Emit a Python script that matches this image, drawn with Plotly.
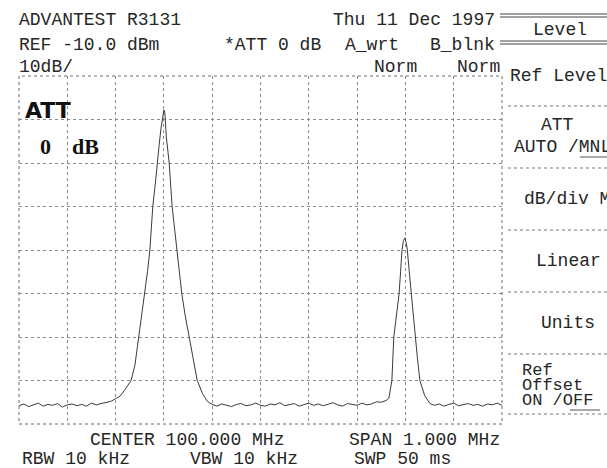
import plotly.graph_objects as go

# screen of an ADVANTEST R3131, 10 dB/div, ref -10 dBm, span 1 MHz
CENTER_MHZ = 100.0

# trace, frequency offset from center (kHz) and level (dBm)
offset_khz = [
    -500, -490, -480, -470, -460, -450, -440, -430, -420, -410,
    -400, -390, -380, -370, -360, -350, -340, -330, -320, -310,
    -300, -290, -280, -268, -260, -252, -245, -239, -234, -229,
    -226, -223, -218, -214, -210, -206, -203, -200, -198, -197,
    -195, -189, -186, -183, -178, -173, -168, -163, -156, -148,
    -140, -131, -120, -110, -100, -90, -80, -70, -60, -50,
    -40, -30, -20, -10, 0, 10, 20, 30, 40, 50,
    60, 70, 80, 90, 100, 110, 120, 130, 140, 150,
    160, 170, 180, 190, 200, 210, 220, 230, 240, 250,
    260, 266, 272, 276, 282, 287, 290, 293, 296, 299,
    302, 304, 308, 312, 316, 320, 325, 330, 340, 351,
    360, 370, 380, 390, 400, 410, 420, 430, 440, 450,
    460, 470, 480, 490, 500,
]
level_dbm = [
    -85.8, -85.4, -86.0, -85.6, -85.2, -85.9, -85.5, -85.7, -85.3, -86.1,
    -85.6, -85.4, -85.8, -85.5, -85.9, -85.2, -85.6, -85.3, -85.0, -84.8,
    -84.2, -83.5, -82.0, -80.0, -76.5, -70.0, -65.0, -60.0, -55.0, -50.0,
    -45.0, -40.0, -35.0, -30.0, -26.0, -22.0, -19.5, -17.8, -18.5, -20.5,
    -24.0, -30.0, -35.0, -40.0, -45.0, -50.0, -55.0, -60.0, -65.0, -70.0,
    -75.0, -80.0, -83.0, -84.8, -85.5, -85.9, -85.4, -85.7, -86.0, -85.5,
    -85.3, -85.8, -85.6, -85.2, -85.7, -85.9, -85.4, -85.6, -85.1, -85.8,
    -85.5, -85.3, -85.9, -85.6, -85.2, -85.7, -85.4, -85.8, -85.5, -85.1,
    -85.6, -85.9, -85.3, -85.5, -85.7, -85.2, -85.6, -85.4, -84.9, -85.0,
    -84.6, -84.0, -80.0, -70.0, -65.0, -60.0, -55.0, -50.0, -47.8, -47.2,
    -48.5, -50.0, -55.0, -60.0, -65.0, -70.0, -75.0, -80.0, -83.5, -85.3,
    -85.7, -85.4, -85.9, -85.5, -85.2, -85.8, -85.6, -85.3, -85.7, -85.5,
    -85.9, -85.4, -85.6, -85.2, -85.7,
]

header_left = ["ADVANTEST R3131", "REF -10.0 dBm", "10dB/"]
header_mid = ["*ATT 0 dB", "A_wrt", "B_blnk", "Norm", "Norm"]
date_text = "Thu 11 Dec 1997"
footer = ["CENTER 100.000 MHz", "SPAN 1.000 MHz", "RBW 10 kHz", "VBW 10 kHz", "SWP 50 ms"]
softkeys = ["Ref Level", "ATT", "AUTO /MNL", "dB/div M", "Linear", "Units", "Ref", "Offset", "ON /OFF"]

# plot area in page pixels
L, R, T, B = 19, 502, 76, 424
W, H = 607, 468


def px(x):
    return (x - L) / (R - L)


def py(y):
    return 1 - (y - T) / (B - T)


freq = [CENTER_MHZ + k / 1000 for k in offset_khz]

fig = go.Figure()
fig.add_trace(
    go.Scatter(
        x=freq,
        y=level_dbm,
        mode="lines",
        line=dict(color="#3a3a3a", width=1),
        hoverinfo="skip",
        showlegend=False,
    )
)

grid = dict(showgrid=True, gridcolor="#8a8a8a", gridwidth=1, griddash="dot",
            showticklabels=False, zeroline=False, showline=False, ticks="")
fig.update_xaxes(range=[99.5, 100.5], tick0=99.5, dtick=0.1, **grid)
fig.update_yaxes(range=[-90, -10], tick0=-90, dtick=10, **grid)

MONO = "Liberation Mono"
TXT = "#262626"


def text(s, x, y, anchor="left", size=18, family=MONO, color=TXT):
    fig.add_annotation(
        text=s, x=px(x), y=py(y), xref="paper", yref="paper",
        xanchor=anchor, yanchor="middle", showarrow=False,
        font=dict(family=family, size=size, color=color),
    )


def hline(x0, x1, y, dash="solid", color="#555", width=1):
    fig.add_shape(
        type="line", xref="paper", yref="paper",
        x0=px(x0), x1=px(x1), y0=py(y), y1=py(y),
        line=dict(color=color, width=width, dash=dash),
    )


# dotted border of the graticule
fig.add_shape(type="rect", xref="paper", yref="paper", x0=0, x1=1, y0=0, y1=1,
              line=dict(color="#6a6a6a", width=1, dash="dot"))

# header
text(header_left[0], 17, 20)
text(header_left[1], 17, 45)
text(header_left[2], 17, 67)
text(header_mid[0], 222, 45)
text(header_mid[1], 343, 45)
text(header_mid[2], 497, 45, anchor="right")
text(header_mid[3], 372, 67)
text(header_mid[4], 502, 67, anchor="right")
text(date_text, 497, 20, anchor="right")

# attenuator box inside the graticule
text("<b>ATT</b>", 23, 110, size=22, family="DejaVu Sans", color="#111")
text("<b>0</b>", 38, 146, size=22, family="Liberation Serif", color="#111")
text("<b>dB</b>", 70, 146, size=22, family="Liberation Serif", color="#111")

# footer
text(footer[0], 88, 440)
text(footer[1], 502, 440, anchor="right")
text(footer[2], 20, 459)
text(footer[3], 188, 459)
text(footer[4], 352, 459)

# softkey panel
for y in (14, 17, 41, 44):
    hline(500, 607, y, color="#444")
text("Level", 560, 30, anchor="center")
text(softkeys[0], 508, 76)
text(softkeys[1], 557, 125, anchor="center")
text(softkeys[2], 512, 147)
text(softkeys[3], 522, 199)
text(softkeys[4], 568, 261, anchor="center")
text(softkeys[5], 568, 323, anchor="center")
text(softkeys[6], 520, 370, size=17)
text(softkeys[7], 520, 385, size=17)
text(softkeys[8], 520, 400, size=17)
for y in (106, 168, 230, 292, 354, 414):
    hline(508, 607, y, dash="dot", color="#777")
hline(580, 607, 157, color="#555")
hline(570, 600, 410, color="#555")

fig.update_layout(
    width=W,
    height=H,
    margin=dict(l=L, r=W - R, t=T, b=H - B),
    plot_bgcolor="white",
    paper_bgcolor="white",
    showlegend=False,
)
fig.write_html(
    "out.html",
    config={"displayModeBar": False},
    post_script="document.body.style.margin='0';document.body.style.overflow='hidden';",
)
